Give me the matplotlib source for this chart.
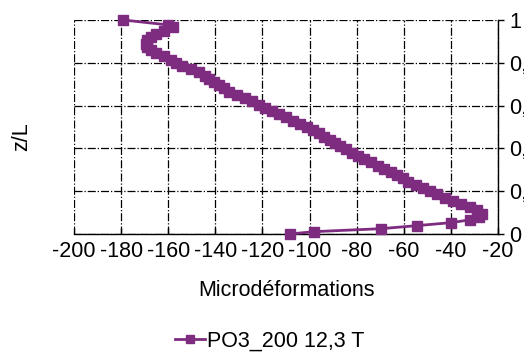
import matplotlib
matplotlib.use("Agg")
import matplotlib.pyplot as plt

plt.rcParams['font.family'] = ['Liberation Sans', 'DejaVu Sans']

z = [0.000, 0.011, 0.025, 0.039, 0.053, 0.066, 0.080, 0.095, 0.110, 0.125,
     0.140, 0.155, 0.170, 0.185, 0.200, 0.215, 0.230, 0.245, 0.260, 0.275,
     0.290, 0.305, 0.320, 0.335, 0.350, 0.365, 0.380, 0.395, 0.410, 0.425,
     0.440, 0.455, 0.470, 0.485, 0.500, 0.515, 0.530, 0.545, 0.560, 0.575,
     0.590, 0.605, 0.620, 0.635, 0.650, 0.665, 0.680, 0.695, 0.710, 0.725,
     0.740, 0.755, 0.770, 0.785, 0.800, 0.815, 0.830, 0.845, 0.860, 0.875,
     0.890, 0.905, 0.920, 0.935, 0.950, 0.965, 0.977, 1.000]
strain = [-108.5, -98, -69.5, -54.5, -40, -32, -28, -27, -29, -32,
          -35.5, -39, -42.5, -46, -49, -52, -55, -58, -60.5, -63,
          -65.5, -68.5, -71, -74, -77, -79.5, -82, -84.5, -87, -89,
          -91.5, -94, -96, -98.5, -101, -104, -107, -110, -113, -116,
          -119, -121.5, -124.5, -127.5, -131, -134, -136.5, -138.5, -140.5, -142.5,
          -144.5, -147, -150.5, -154, -156.5, -159, -162, -165, -167.5, -169,
          -169.5, -169, -167.5, -165, -162, -158, -160, -179]
series_label = "PO3_200 12,3 T"
x_ticks = [-200, -180, -160, -140, -120, -100, -80, -60, -40, -20]
y_ticks = [0, 0.2, 0.4, 0.6, 0.8, 1]
y_tick_labels = ["0", "0,2", "0,4", "0,6", "0,8", "1"]

color = '#7E2C80'
fs = 15.5

fig = plt.figure(figsize=(5.24, 3.57), dpi=100)
ax = fig.add_axes([74/524, 1-234/357, (498-74)/524, (234-20)/357])

ax.plot(strain, z, color=color, marker='s', markersize=7.8, linewidth=2,
        label=series_label, clip_on=False, zorder=3)

ax.set_xlim(-200, -20)
ax.set_ylim(0, 1)
ax.set_xticks(x_ticks)
ax.set_xticklabels([str(t) for t in x_ticks], fontsize=fs)
ax.set_yticks(y_ticks)
ax.set_yticklabels(y_tick_labels, fontsize=fs)
ax.yaxis.tick_right()
ax.tick_params(axis='y', direction='out', length=4, width=1, pad=4)
ax.tick_params(axis='x', direction='in', length=4, width=1, pad=5)

ax.grid(True, color='black', linestyle='-.', linewidth=0.9)
ax.spines['top'].set_visible(False)
ax.spines['left'].set_visible(False)
ax.spines['right'].set_linewidth(1)
ax.spines['bottom'].set_linewidth(1)

ax.set_xlabel("Microdéformations", fontsize=fs, labelpad=0)
ax.xaxis.set_label_coords(0.5, -(291-234)/214, transform=ax.transAxes)
ax.xaxis.label.set_va('center')
fig.text(21.5/524, 1-137/357, "z/L", rotation=90, fontsize=fs,
         ha='center', va='center')

fig.legend(loc='center', bbox_to_anchor=(270/524, 1-341/357), frameon=False,
           fontsize=fs, handlelength=1.4, handletextpad=0.1,
           markerscale=0.8)

fig.savefig("out.png", dpi=100)
